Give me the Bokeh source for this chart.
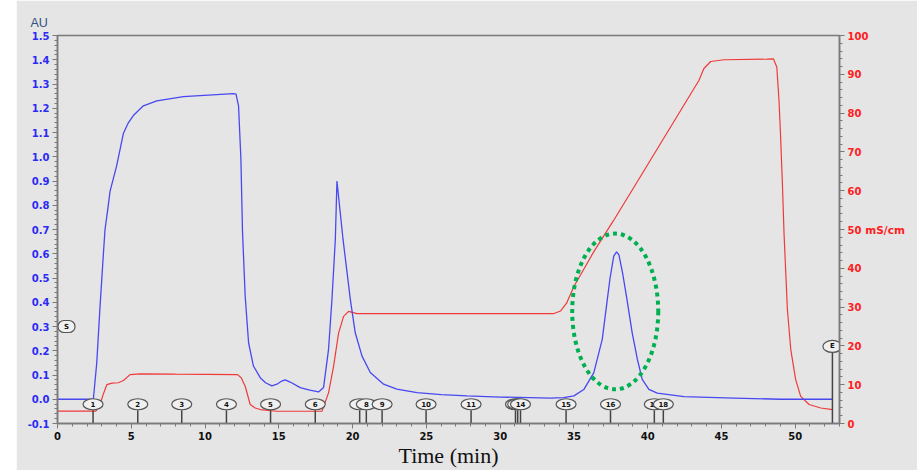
from bokeh.plotting import figure
from bokeh.models import Range1d, LinearAxis, FixedTicker, PrintfTickFormatter, Label, Title
from bokeh.core.properties import value
from bokeh.embed import file_html
from bokeh.resources import INLINE

# ---------------- data ----------------
time_uv = [0, 2.2, 2.43, 2.66, 2.88, 3.1, 3.22, 3.40, 3.56, 4.0, 4.47, 4.8, 5.14, 5.82, 6.73,
           8.53, 11.93, 12.1, 12.27, 12.43, 12.54, 12.72, 12.95, 13.28, 13.74, 14.1, 14.53,
           14.87, 15.2, 15.43, 15.77, 16.45, 17.1, 17.69, 18.03, 18.37, 18.6, 18.83, 18.94,
           19.35, 19.85, 20.18, 20.64, 21.2, 22.1, 23.0, 24.37, 26.0, 27.76, 30.0, 33.4, 34.3,
           35.0, 35.67, 36.35, 36.92, 37.26, 37.45, 37.7, 37.89, 38.05, 38.3, 38.6, 38.95,
           39.3, 39.63, 40.08, 40.65, 42.46, 45.85, 49.0, 52.5]
uv_au = [0.0, 0.0, 0.0, 0.15, 0.38, 0.59, 0.70, 0.78, 0.857, 0.96, 1.097, 1.14, 1.17, 1.21, 1.23,
         1.248, 1.26, 1.258, 1.21, 0.99, 0.69, 0.425, 0.233, 0.137, 0.089, 0.068, 0.055,
         0.062, 0.075, 0.08, 0.071, 0.048, 0.038, 0.03, 0.048, 0.206, 0.41, 0.66, 0.90,
         0.66, 0.41, 0.274, 0.178, 0.11, 0.062, 0.042, 0.027, 0.019, 0.014, 0.009, 0.005, 0.007,
         0.014, 0.04, 0.11, 0.247, 0.41, 0.50, 0.59, 0.608, 0.595, 0.52, 0.41, 0.274,
         0.165, 0.082, 0.041, 0.025, 0.011, 0.005, 0.0, 0.0]

time_cond = [0, 2.6, 2.88, 3.1, 3.34, 3.7, 4.12, 4.47, 4.92, 5.6, 8.0, 12.2, 12.45, 12.72, 13.06,
             13.4, 13.74, 14.87, 17.92, 18.37, 18.71, 19.05, 19.39, 19.73, 20.3, 33.6, 34.1,
             34.5, 35.0, 36.35, 37.7, 39.5, 43.47, 43.81, 44.27, 45.17, 48.1, 48.52, 48.75,
             48.9, 49.0, 49.13, 49.24, 49.47, 49.7, 50.03, 50.37, 50.94, 51.73, 52.52]
cond_mScm = [3.2, 3.2, 4.9, 7.5, 10.0, 10.4, 10.5, 11.1, 12.6, 12.8, 12.7, 12.6, 11.8, 9.6, 4.9,
             4.0, 3.6, 3.16, 3.16, 7.9, 14.7, 23.3, 27.6, 28.9, 28.3, 28.3, 29.0,
             31.0, 35.3, 44.3, 52.4, 63.6, 88.4, 91.5, 93.3, 93.75, 93.9, 94.0, 91.9,
             83.3, 74.7, 61.9, 49.0, 29.3, 19.0, 11.3, 7.0, 4.9, 4.0, 3.6]

frac_time = [2.41, 5.44, 8.42, 11.45, 14.44, 17.47, 20.48, 20.93, 22.0, 24.98, 28.03,
             31.04, 31.19, 31.38, 34.47, 37.48, 40.45, 41.06]
frac_label = [str(i) for i in range(1, 19)]

start_time, start_label = 0.0, "S"
end_time, end_label = 52.52, "E"

peak_center_time, peak_center_au = 37.8, 0.362
peak_width_time, peak_height_au = 5.83, 0.642

left_ticks = [round(-0.1 + 0.1 * i, 1) for i in range(17)]
bottom_ticks = [0, 5, 10, 15, 20, 25, 30, 35, 40, 45, 50]
right_ticks = [0, 10, 20, 30, 40, 50, 60, 70, 80, 90, 100]

# ---------------- style ----------------
BG = "#e5e5e5"
AXC = "#7a7a7a"
BLUE = "#4848f2"
RED = "#f03a3a"
FONT = "DejaVu Sans"

p = figure(width=901, height=470, x_range=Range1d(0, 53), y_range=Range1d(-0.1, 1.5),
           output_backend="svg", toolbar_location=None,
           min_border_left=41, min_border_right=78, min_border_top=35, min_border_bottom=46,
           background_fill_color=BG, border_fill_color=BG,
           outline_line_color=AXC, outline_line_width=1.5)
p.styles = {"margin-left": "16px"}
p.grid.visible = False
p.extra_y_ranges = {"cond": Range1d(0, 100)}

p.title = Title(text="AU", align="left", offset=-27, standoff=12, text_font="Liberation Sans",
                text_font_size="12.5px", text_font_style="normal", text_color="#34507e")

def style_axis(ax, color, ticks, minor):
    ax.ticker = FixedTicker(ticks=ticks, minor_ticks=minor)
    ax.axis_line_color = AXC
    ax.axis_line_width = 1.5
    ax.major_tick_line_color = AXC
    ax.minor_tick_line_color = AXC
    ax.major_tick_out = 5
    ax.major_tick_in = 0
    ax.minor_tick_out = 3
    ax.minor_tick_in = 0
    ax.major_label_text_font = FONT
    ax.major_label_text_font_style = "bold"
    ax.major_label_text_font_size = "10px"
    ax.major_label_text_color = color
    ax.major_label_standoff = 3

yl = p.yaxis[0]
style_axis(yl, "#2b2bf5", left_ticks, [round(-0.1 + 0.02 * i, 2) for i in range(81)])
yl.formatter = PrintfTickFormatter(format="%.1f")

xb = p.xaxis[0]
style_axis(xb, "#111111", bottom_ticks, list(range(0, 54)))
xb.axis_label = "Time (min)"
xb.axis_label_text_font = "Liberation Serif"
xb.axis_label_text_font_style = "normal"
xb.axis_label_text_font_size = "22px"
xb.axis_label_text_color = "#111111"
xb.axis_label_standoff = 0

yr = LinearAxis(y_range_name="cond")
style_axis(yr, "#ff2020", right_ticks, list(range(0, 101, 2)))
yr.axis_label = "mS/cm"
yr.axis_label_orientation = "horizontal"
yr.axis_label_text_font = FONT
yr.axis_label_text_font_style = "bold"
yr.axis_label_text_font_size = "10.5px"
yr.axis_label_text_color = "#ff2020"
yr.axis_label_standoff = -6
p.add_layout(yr, "right")

# ---------------- curves ----------------
p.line(time_cond, cond_mScm, y_range_name="cond", line_color=RED, line_width=1.2)
p.line(time_uv, uv_au, line_color=BLUE, line_width=1.3)

# ---------------- fraction markers ----------------
for t, lab in zip(frac_time, frac_label):
    p.segment(x0=[t], y0=[-0.045], x1=[t], y1=[-0.1], line_color="#444444", line_width=1.5)
    p.ellipse(x=[t], y=[-0.0206], width=20, height=11, width_units="screen",
              height_units="screen", fill_color="#f0f0f0", line_color="#555555", line_width=1.2)
    p.text(x=[t], y=[-0.0206], text=[lab], text_font=value(FONT), text_font_style="bold",
           text_font_size="7px", text_align="center", text_baseline="middle", text_color="#111111")

p.segment(x0=[end_time], y0=[0.195], x1=[end_time], y1=[-0.1], line_color="#444444", line_width=1.5)
p.ellipse(x=[end_time], y=[0.218], width=19, height=12, width_units="screen", height_units="screen",
          fill_color="#f0f0f0", line_color="#555555", line_width=1.2)
p.text(x=[end_time], y=[0.218], text=[end_label], text_font=value(FONT), text_font_style="bold",
       text_font_size="7px", text_align="center", text_baseline="middle", text_color="#111111")

# start marker: nudged right of the axis so the frame does not cut it
p.add_layout(Label(x=start_time, y=0.30, x_offset=9, text=start_label,
                   text_font=FONT, text_font_style="bold",
                   text_font_size="7px", text_align="center", text_baseline="middle",
                   text_color="#111111", background_fill_color="#f0f0f0",
                   border_line_color="#555555", border_line_width=1.2, border_radius=6,
                   padding=(6, 2)))

# green dotted ellipse
p.ellipse(x=[peak_center_time], y=[peak_center_au], width=peak_width_time, height=peak_height_au,
          fill_alpha=0, line_color="#00b050", line_width=4, line_dash="4 4")

open("out.html", "w").write(file_html(p, INLINE))
